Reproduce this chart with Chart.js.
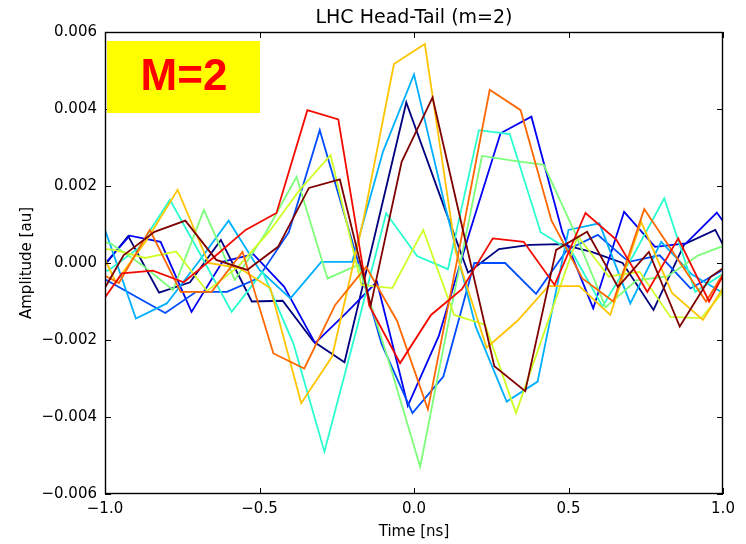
<!DOCTYPE html>
<html>
<head>
<meta charset="utf-8">
<script src="https://cdn.jsdelivr.net/npm/chart.js@4/dist/chart.umd.min.js"></script>
<style>
  html, body { margin: 0; padding: 0; background: #fff; }
</style>
</head>
<body>
<canvas id="headTailChart" width="746" height="544"></canvas>
<script>
// sample times [ns] shared by all traces, each trace is shifted a little in time
const timeGrid = [-1.1, -1.0, -0.9, -0.8, -0.7, -0.6, -0.5, -0.4, -0.3, -0.2, -0.1, 0.0,
                  0.1, 0.2, 0.3, 0.4, 0.5, 0.6, 0.7, 0.8, 0.9, 1.0, 1.1];
const traceShifts = [-0.025, -0.02, -0.005, 0, 0.01, 0.02, 0.03, 0.035, 0.045, 0.055, 0.06];
const traceColors = ['#00007f', '#0000f3', '#004cff', '#00b0ff', '#29ffce', '#7dff7a',
                     '#ceff29', '#ffc400', '#ff6800', '#f30900', '#7f0000'];

const trace0 = [null, -0.0003, 0.0007, -0.00077, -0.0005, 0.0006, -0.001, -0.00098, -0.00204, -0.00258, 0.00078, 0.00417,
                0.00195, -0.00025, 0.00036, 0.00047, 0.00049, 0.00029, 0.0, -0.00122, 0.00049, 0.00086, -0.0007];
const trace1 = [null, -0.0002, 0.00071, 0.00055, -0.00127, 0.00003, 0.00023, -0.00062, -0.00208, -0.0013, -0.00049, -0.00371,
                -0.0019, 0.0008, 0.00337, 0.0038, 0.0008, -0.00118, 0.00133, 0.00042, 0.00051, 0.00131, 0.0002];
const trace2 = [null, -0.0004, -0.00085, -0.0013, -0.00075, -0.00075, -0.0004, 0.0008, 0.00345, 0.0007, -0.0021, -0.0039,
                -0.00295, 0.0, 0.0, -0.0008, 0.00034, 0.00073, 0.00003, 0.0002, -0.00066, -0.0002, null];
const trace3 = [null, 0.00086, -0.00144, -0.00105, 0.0, 0.0011, -0.00018, -0.00092, 0.00003, 0.00003, 0.0029, 0.0049,
                0.0015, -0.00166, -0.0036, -0.00308, 0.00086, 0.00103, -0.00105, 0.00055, -0.0003, -0.00078, null];
const trace4 = [-0.0002, -0.0002, 0.0004, 0.00164, 0.0002, -0.00127, -0.00023, -0.0021, -0.0049, -0.00185, 0.00129, 0.00018,
                -0.00016, 0.00345, 0.00335, 0.0008, 0.0003, -0.00113, 0.0002, 0.00168, -0.00075, -0.00023, null];
const trace5 = [0.0007, 0.0005, -0.00005, -0.0007, 0.00138, -0.00044, 0.00078, 0.00224, -0.0004, -0.00005, -0.0026, -0.00529,
                -0.0012, 0.00278, 0.00266, 0.00255, 0.0008, -0.00115, -0.00045, -0.00035, 0.0002, 0.0005, null];
const trace6 = [0.0004, 0.00034, 0.00013, 0.0003, -0.00073, -0.0001, 0.0008, 0.0019, 0.0028, -0.00057, -0.00065, 0.00086,
                -0.00135, -0.0016, -0.0039, -0.0016, 0.0007, -0.00035, -0.00023, -0.0014, -0.00143, -0.00047, null];
const trace7 = [0.0012, -0.0005, 0.0006, 0.0019, 0.0, -0.00013, -0.00065, -0.00364, -0.00243, 0.00107, 0.00517, 0.00569,
                0.0003, -0.0022, -0.0015, -0.0006, -0.0006, -0.00135, 0.00107, -0.00078, -0.00148, -0.0002, null];
const trace8 = [-0.0001, -0.00052, 0.00086, -0.00075, -0.00075, 0.00029, -0.00235, -0.00274, -0.00109, -0.0001, -0.0015, -0.0038,
                0.0003, 0.0045, 0.00397, 0.0011, -0.0004, -0.001, 0.0014, 0.0002, -0.001, 0.0003, null];
const trace9 = [-0.0014, -0.00027, -0.0002, -0.0005, 0.00017, 0.00086, 0.0013, 0.00397, 0.00373, -0.0011, -0.0026, -0.00135,
                -0.00068, 0.00064, 0.00055, -0.00057, 0.0013, 0.0006, -0.00075, 0.00064, -0.001, 0.0005, null];
const trace10 = [-0.0012, 0.0002, 0.00081, 0.0011, 0.00008, -0.00018, 0.00042, 0.00195, 0.00217, -0.0011, 0.00263, 0.0043,
                 0.0008, -0.00268, -0.00333, 0.00034, 0.00081, -0.00062, 0.00029, -0.00165, -0.00036, 0.0002, null];
const traces = [trace0, trace1, trace2, trace3, trace4, trace5, trace6, trace7, trace8, trace9, trace10];

const FONT = 'DejaVu Sans';

const frameAndNote = {
    id: 'frameAndNote',
    afterDatasetsDraw(chart) {
        const { ctx, chartArea: a, scales: { x, y } } = chart;
        ctx.save();
        ctx.strokeStyle = '#000';
        ctx.lineWidth = 1;
        // inward ticks on all four sides, like the classic matplotlib look
        ctx.beginPath();
        x.ticks.forEach(t => {
            const px = Math.round(x.getPixelForValue(t.value)) + 0.5;
            ctx.moveTo(px, a.bottom); ctx.lineTo(px, a.bottom - 6);
            ctx.moveTo(px, a.top); ctx.lineTo(px, a.top + 6);
        });
        y.ticks.forEach(t => {
            const py = Math.round(y.getPixelForValue(t.value)) + 0.5;
            ctx.moveTo(a.left, py); ctx.lineTo(a.left + 6, py);
            ctx.moveTo(a.right, py); ctx.lineTo(a.right - 6, py);
        });
        ctx.stroke();
        ctx.lineWidth = 1.4;
        ctx.strokeRect(a.left + 0.5, a.top + 0.5, a.right - a.left - 1, a.bottom - a.top - 1);

        // title, centred over the plot area
        ctx.fillStyle = '#000';
        ctx.font = '19px "' + FONT + '"';
        ctx.textAlign = 'center';
        ctx.textBaseline = 'middle';
        ctx.fillText('LHC Head-Tail (m=2)', (a.left + a.right) / 2, 18);

        // the yellow "M=2" label in the upper left corner
        ctx.fillStyle = '#ffff00';
        ctx.fillRect(a.left + 2, a.top + 9, 153, 72);
        ctx.fillStyle = '#ff0000';
        ctx.font = 'bold 44px "Liberation Sans"';
        ctx.fillText('M=2', a.left + 79, a.top + 46);
        ctx.restore();
    }
};

const datasets = traces.map((vals, i) => ({
    label: 'trace ' + i,
    data: timeGrid
        .map((t, j) => ({ x: t + traceShifts[i], y: vals[j] }))
        .filter(p => p.y !== null),
    borderColor: traceColors[i],
    borderWidth: 1.8,
    pointRadius: 0,
    tension: 0,
    fill: false,
    order: traces.length - i
}));

new Chart(document.getElementById('headTailChart'), {
    type: 'line',
    data: { datasets: datasets },
    options: {
        responsive: false,
        animation: false,
        layout: { padding: { top: 32, right: 23, bottom: 0, left: 0 } },
        plugins: {
            legend: { display: false },
            tooltip: { enabled: false },
            title: { display: false }
        },
        scales: {
            x: {
                type: 'linear',
                min: -1,
                max: 1,
                grid: { display: false, drawTicks: false },
                border: { display: false },
                ticks: {
                    stepSize: 0.5,
                    padding: 6,
                    color: '#000',
                    font: { family: FONT, size: 15 },
                    maxRotation: 0,
                    callback: v => v.toFixed(1).replace('-', '\u2212')
                },
                title: {
                    display: true,
                    text: 'Time [ns]',
                    color: '#000',
                    font: { family: FONT, size: 15 },
                    padding: { top: 0, bottom: 3 }
                },
                afterFit: s => { s.height = 50; }
            },
            y: {
                min: -0.006,
                max: 0.006,
                grid: { display: false, drawTicks: false },
                border: { display: false },
                ticks: {
                    stepSize: 0.002,
                    padding: 8,
                    color: '#000',
                    font: { family: FONT, size: 15 },
                    callback: v => (Math.abs(v) < 1e-9 ? '0.000' : v.toFixed(3)).replace('-', '\u2212')
                },
                title: {
                    display: true,
                    text: 'Amplitude [au]',
                    color: '#000',
                    font: { family: FONT, size: 15 },
                    padding: { top: 18, bottom: 0 }
                },
                afterFit: s => { s.width = 105; }
            }
        }
    },
    plugins: [frameAndNote]
});
</script>
</body>
</html>
